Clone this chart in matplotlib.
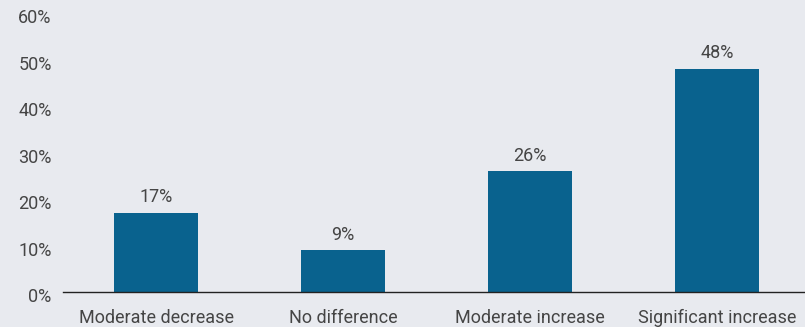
import matplotlib
matplotlib.use("Agg")
from matplotlib import pyplot as plt
from matplotlib.ticker import FuncFormatter
from matplotlib.transforms import ScaledTranslation

categories = ["Moderate decrease", "No difference", "Moderate increase", "Significant increase"]
values = [17, 9, 26, 48]
y_ticks = [0, 10, 20, 30, 40, 50, 60]

BG = "#e8eaef"
BAR = "#09628e"
TEXT = "#454545"

plt.rcParams['font.family'] = ['Roboto', 'DejaVu Sans']

fig = plt.figure(figsize=(8.05, 3.27), dpi=100, facecolor=BG)
ax = fig.add_axes([0.078, 0.107, 0.922, 0.853], facecolor=BG)

x = list(range(len(categories)))
bars = ax.bar(x, values, width=0.45, color=BAR, zorder=2)

# Value labels over each bar
for rect, v in zip(bars, values):
    ax.text(rect.get_x() + rect.get_width() / 2, v + 1.4, f"{v}%",
            ha='center', va='bottom', fontsize=13, color=TEXT)

ax.set_xlim(-0.5, 3.47)
ax.set_ylim(0, 60)
ax.set_yticks(y_ticks)
ax.yaxis.set_major_formatter(FuncFormatter(lambda v, _: f"{int(v)}%"))
ax.set_xticks(x)
ax.set_xticklabels(categories)

for side in ['top', 'right', 'left']:
    ax.spines[side].set_visible(False)
ax.spines['bottom'].set_color('#222222')
ax.spines['bottom'].set_linewidth(1.0)

ax.tick_params(axis='both', length=0, labelsize=13, labelcolor=TEXT)
ax.tick_params(axis='y', pad=8)
ax.tick_params(axis='x', pad=12)

# y labels sit a touch below their tick positions in the original
shift = ScaledTranslation(0, -3 / 100, fig.dpi_scale_trans)
for lbl in ax.get_yticklabels():
    lbl.set_transform(lbl.get_transform() + shift)

fig.savefig('out.png', dpi=100, facecolor=BG)
